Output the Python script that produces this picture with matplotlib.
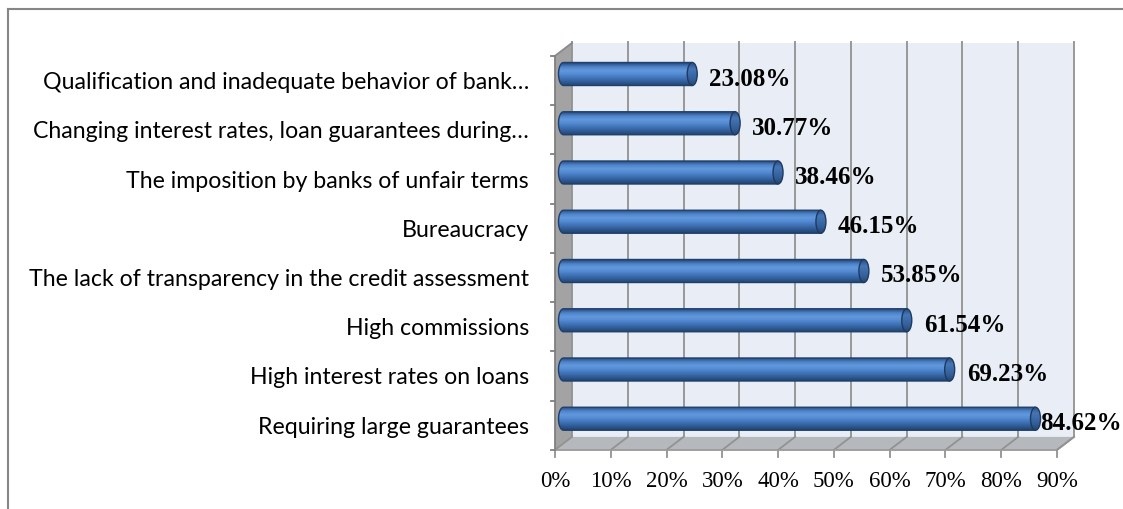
import numpy as np
import matplotlib
matplotlib.use("Agg")
import matplotlib.pyplot as plt
from matplotlib.patches import Polygon, Ellipse
from matplotlib.lines import Line2D
from matplotlib.colors import LinearSegmentedColormap

# ---- data -------------------------------------------------------------
categories = [
    "Qualification and inadequate behavior of bank…",
    "Changing interest rates, loan guarantees during…",
    "The imposition by banks of unfair terms",
    "Bureaucracy",
    "The lack of transparency in the credit assessment",
    "High commissions",
    "High interest rates on loans",
    "Requiring large guarantees",
]
values = [23.08, 30.77, 38.46, 46.15, 53.85, 61.54, 69.23, 84.62]
value_labels = ["23.08%", "30.77%", "38.46%", "46.15%", "53.85%", "61.54%", "69.23%", "84.62%"]
x_ticks = [0, 10, 20, 30, 40, 50, 60, 70, 80, 90]
x_tick_labels = ["0%", "10%", "20%", "30%", "40%", "50%", "60%", "70%", "80%", "90%"]

# ---- layout (pixels) --------------------------------------------------
W, H = 1123, 510
PX_PER_PCT = 5.578      # horizontal pixels per percentage point
X0_MID = 563.5          # pixel x of 0% on the mid-depth plane
ROW_PX = 49.25          # pixel height of one category row
Y0_MID = 75.0           # pixel y (from top) of first row centre, mid plane
DEPTH_X, DEPTH_Y = 8.5, 6.5   # half depth of the 3-D box in pixels

fig = plt.figure(figsize=(W / 100, H / 100), dpi=100)
ax = fig.add_axes([0, 0, 1, 1])
XLIM = (-X0_MID / PX_PER_PCT, (W - X0_MID) / PX_PER_PCT)
YLIM = ((H - Y0_MID) / ROW_PX, -Y0_MID / ROW_PX)
ax.set_xlim(*XLIM)
ax.set_ylim(*YLIM)
ax.axis("off")

DX = DEPTH_X / PX_PER_PCT
DY = DEPTH_Y / ROW_PX
px_x = lambda p: p / PX_PER_PCT
px_y = lambda p: p / ROW_PX


def front(v, i):
    return (v - DX, i + DY)


def back(v, i):
    return (v + DX, i - DY)


n = len(categories)
top_i, bot_i = -0.5, n - 0.5
xmax = x_ticks[-1]
grid_c = "#929292"

# back wall
ax.add_patch(Polygon([back(0, top_i), back(xmax, top_i), back(xmax, bot_i), back(0, bot_i)],
                     closed=True, facecolor="#e9edf5", edgecolor="none", zorder=0))
# floor
ax.add_patch(Polygon([front(0, bot_i), front(xmax, bot_i), back(xmax, bot_i), back(0, bot_i)],
                     closed=True, facecolor="#b5b8bd", edgecolor="none", zorder=0.5))
# side wall
ax.add_patch(Polygon([front(0, top_i), front(0, bot_i), back(0, bot_i), back(0, top_i)],
                     closed=True, facecolor="#a3a3a3", edgecolor="none", zorder=0.5))

# vertical gridlines, floor diagonals and ticks
for v, lab in zip(x_ticks, x_tick_labels):
    bx, by0 = back(v, top_i)
    _, by1 = back(v, bot_i)
    fx, fy = front(v, bot_i)
    ax.plot([bx, bx], [by0 - px_y(2), by1], color=grid_c, lw=1.3, zorder=1, solid_capstyle="butt")
    ax.plot([bx, fx], [by1, fy], color=grid_c, lw=1.3, zorder=1)
    ax.plot([fx, fx], [fy, fy + px_y(7)], color=grid_c, lw=1.3, zorder=1)
    ax.text(fx, fy + px_y(31), lab, ha="center", va="center",
            fontsize=16.5, family="Liberation Serif", color="#000000", zorder=5)

# box edges
ax.plot(*zip(front(0, top_i), front(0, bot_i)), color="#7f7f7f", lw=1.3, zorder=1.2)
ax.plot(*zip(front(0, bot_i), front(xmax, bot_i)), color="#9a9a9a", lw=1.3, zorder=1.2)
ax.plot(*zip(front(0, top_i), back(0, top_i)), color="#8a8a8a", lw=1.3, zorder=1.2)
ax.plot(*zip(front(xmax, bot_i), back(xmax, bot_i)), color=grid_c, lw=1.3, zorder=1.2)

# category ticks on the side wall
for k in range(n + 1):
    fx, fy = front(0, top_i + k)
    ax.plot([fx - px_x(4), fx], [fy, fy], color="#7f7f7f", lw=1.3, zorder=1.2)

# category labels
for i, cat in enumerate(categories):
    fx, fy = front(0, i)
    ax.text(fx - px_x(26), fy + px_y(1), cat, ha="right", va="center", fontsize=16.7,
            family="Lato", color="#000000", zorder=5)

# cylindrical bars
body_cmap = LinearSegmentedColormap.from_list(
    "body", ["#284d80", "#4f84cb", "#6298dc", "#5289d0", "#3f72b6", "#2f5b94", "#22446f"])
cap_cmap = LinearSegmentedColormap.from_list(
    "cap", ["#2a4f82", "#4676b6", "#3c6aa8", "#325c95", "#24466f"])
grad = np.linspace(0, 1, 64).reshape(-1, 1)
bar_h = px_y(23)
cap_w = px_x(10)

bars = ax.barh(range(n), values, height=bar_h, left=0, color="none", edgecolor="none")
th = np.linspace(np.pi / 2, 3 * np.pi / 2, 30)
for i, (v, rect) in enumerate(zip(values, bars)):
    yt, yb = i - bar_h / 2, i + bar_h / 2
    # outline: right end, then rounded left end
    left_arc = np.column_stack([cap_w / 2 * np.cos(th[::-1]), i + bar_h / 2 * np.sin(th[::-1])])[::-1]
    outline = np.vstack([[[v, yt], [v, yb]], left_arc])
    body = Polygon(outline, closed=True, facecolor="none", edgecolor="#203f6a", lw=1.0, zorder=3.1)
    ax.add_patch(body)
    im = ax.imshow(grad, extent=(-cap_w / 2, v, yb, yt), origin="upper", aspect="auto",
                   cmap=body_cmap, zorder=3, interpolation="bilinear")
    im.set_clip_path(body)
    cap = Ellipse((v, i), cap_w, bar_h, facecolor="none", edgecolor="#1d3a62", lw=1.0, zorder=3.3)
    ax.add_patch(cap)
    imc = ax.imshow(grad, extent=(v - cap_w / 2, v + cap_w / 2, yb, yt), origin="upper",
                    aspect="auto", cmap=cap_cmap, zorder=3.2, interpolation="bilinear")
    imc.set_clip_path(cap)

ax.set_xlim(*XLIM)
ax.set_ylim(*YLIM)

# value labels
texts = []
for i, (v, lab) in enumerate(zip(values, value_labels)):
    t = ax.text(v + px_x(17), i + px_y(4), lab, ha="left", va="center", fontsize=18,
                fontweight="bold", family="Liberation Serif", color="#000000", zorder=6)
    texts.append(t)

fig.canvas.draw()
renderer = fig.canvas.get_renderer()
for t in texts:
    bb = t.get_window_extent(renderer)
    if bb.x1 > W - 1:
        x, y = t.get_position()
        t.set_position((x - px_x(bb.x1 - (W - 1)), y))

# chart-area border (top and left visible)
fig.add_artist(Line2D([8 / W, 1], [1 - 10 / H, 1 - 10 / H], transform=fig.transFigure,
                      color="#868686", lw=1.5))
fig.add_artist(Line2D([8 / W, 8 / W], [0, 1 - 10 / H], transform=fig.transFigure,
                      color="#868686", lw=1.5))

fig.savefig("out.png", dpi=100)
